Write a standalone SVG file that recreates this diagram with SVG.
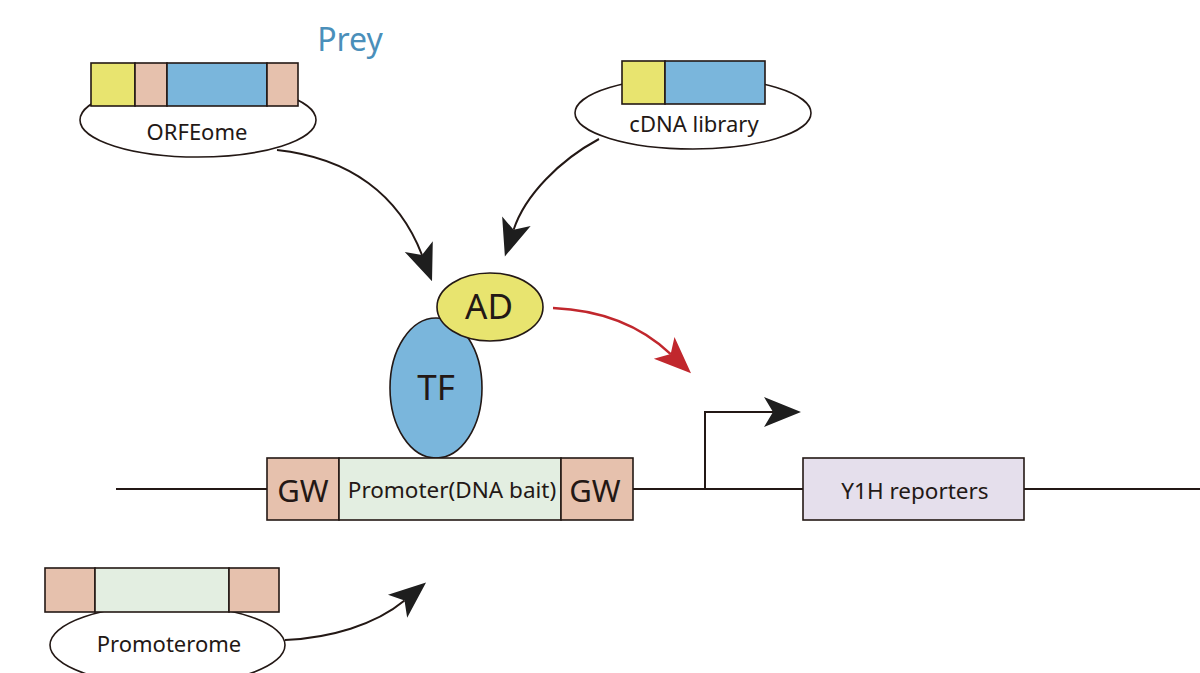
<svg xmlns="http://www.w3.org/2000/svg" width="1200" height="673" viewBox="0 0 1200 673">
  <defs>
    <style>
      .ol { stroke: #231815; stroke-width: 1.6; }
      .yel { fill: #e8e46f; }
      .pch { fill: #e6c1ad; }
      .blu { fill: #7ab6dc; }
      .grn { fill: #e3eee1; }
      .lav { fill: #e5dfec; }
      .wht { fill: #ffffff; }
      .lbl { font-family: "Noto Sans", "Liberation Sans", sans-serif; fill: #231815; text-anchor: middle; }
      .wire { fill: none; stroke: #231815; stroke-width: 2; }
    </style>
    <marker id="headK" markerUnits="userSpaceOnUse" markerWidth="40" markerHeight="32" refX="9" refY="15" orient="auto" overflow="visible">
      <path d="M0,0 L37,15 L0,30 L9,15 Z" fill="#1e1e1e"/>
    </marker>
    <marker id="headR" markerUnits="userSpaceOnUse" markerWidth="40" markerHeight="32" refX="9" refY="15" orient="auto" overflow="visible">
      <path d="M0,0 L37,15 L0,30 L9,15 Z" fill="#c1272d"/>
    </marker>
  </defs>

  <rect width="1200" height="673" fill="#ffffff"/>

  <text class="lbl" x="350" y="51" font-size="32" style="fill:#4a8fba">Prey</text>

  <!-- DNA backbone -->
  <line x1="116" y1="489" x2="1200" y2="489" stroke="#231815" stroke-width="2"/>

  <!-- ORFEome library -->
  <g id="orfeome">
    <ellipse class="ol wht" cx="198" cy="120" rx="118" ry="37"/>
    <rect class="ol yel" x="91" y="63" width="44" height="43"/>
    <rect class="ol pch" x="135" y="63" width="32" height="43"/>
    <rect class="ol blu" x="167" y="63" width="100" height="43"/>
    <rect class="ol pch" x="267" y="63" width="31" height="43"/>
    <text class="lbl" x="197" y="140" font-size="22">ORFEome</text>
  </g>

  <!-- cDNA library -->
  <g id="cdna">
    <ellipse class="ol wht" cx="693" cy="113" rx="118" ry="36"/>
    <rect class="ol yel" x="622" y="61" width="43" height="43"/>
    <rect class="ol blu" x="665" y="61" width="100" height="43"/>
    <text class="lbl" x="694" y="132" font-size="22">cDNA library</text>
  </g>

  <!-- Promoterome library -->
  <g id="promoterome">
    <ellipse class="ol wht" cx="167.5" cy="645" rx="117.5" ry="40"/>
    <rect class="ol pch" x="45" y="568" width="50" height="44"/>
    <rect class="ol grn" x="95" y="568" width="134" height="44"/>
    <rect class="ol pch" x="229" y="568" width="50" height="44"/>
    <text class="lbl" x="169" y="652" font-size="22">Promoterome</text>
  </g>

  <!-- TF bound to the bait -->
  <g id="tf">
    <ellipse class="ol blu" cx="436" cy="388" rx="46" ry="70"/>
    <text class="lbl" x="436" y="400" font-size="35">TF</text>
  </g>

  <!-- activation domain -->
  <g id="ad">
    <ellipse class="ol yel" cx="490" cy="307" rx="53" ry="34"/>
    <text class="lbl" x="489" y="319" font-size="35">AD</text>
  </g>

  <!-- bait construct -->
  <g id="bait">
    <rect class="ol pch" x="267" y="458" width="72" height="62"/>
    <rect class="ol grn" x="339" y="458" width="222" height="62"/>
    <rect class="ol pch" x="561" y="458" width="72" height="62"/>
    <text class="lbl" x="303" y="502" font-size="31">GW</text>
    <text class="lbl" x="452" y="498" font-size="22.5">Promoter(DNA bait)</text>
    <text class="lbl" x="595" y="502" font-size="31">GW</text>
  </g>

  <!-- reporter -->
  <g id="reporter">
    <rect class="ol lav" x="803" y="458" width="221" height="62"/>
    <text class="lbl" x="915" y="499" font-size="22.5">Y1H reporters</text>
  </g>

  <!-- connectors -->
  <g id="connectors">
    <path class="wire" d="M277,150 C350,158 399,195 422,255" marker-end="url(#headK)"/>
    <path class="wire" d="M599,139 C560,160 525,195 513.6,229.8" marker-end="url(#headK)"/>
    <path d="M553,308 C600,310 640,325 670.7,354.1" fill="none" stroke="#c1272d" stroke-width="2.5" marker-end="url(#headR)"/>
    <path class="wire" d="M285,640 C330,638 375,625 404.5,600.5" stroke-width="3" marker-end="url(#headK)"/>
    <path class="wire" d="M705,489 V412 H773" marker-end="url(#headK)"/>
  </g>
</svg>
